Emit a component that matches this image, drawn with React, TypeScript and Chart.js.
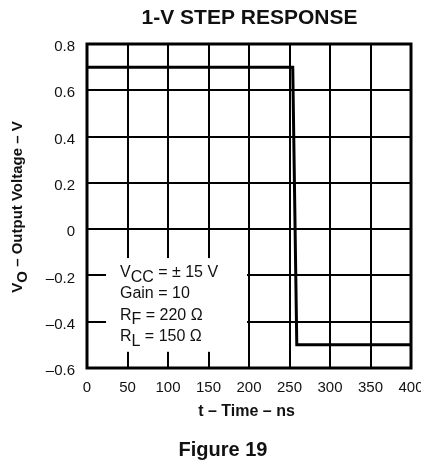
import React, { useEffect, useRef } from "react";
import { Chart, registerables } from "chart.js";

Chart.register(...registerables);

// ---- data ----
const timeNs = [0, 254, 259, 400];
const voltage = [0.7, 0.7, -0.5, -0.5];

const xMin = 0;
const xMax = 400;
const xStep = 50;
const yMin = -0.6;
const yMax = 0.8;
const yStep = 0.2;

const chartTitle = "1-V STEP RESPONSE";
const xTitle = "t \u2013 Time \u2013 ns";
const yTitleParts = [
  { text: "V" },
  { text: "O", sub: true },
  { text: " \u2013 Output Voltage \u2013 V" },
];
const figureCaption = "Figure 19";
const conditionLines = [
  [{ text: "V" }, { text: "CC", sub: true }, { text: " = \u00b1 15 V" }],
  [{ text: "Gain = 10" }],
  [{ text: "R" }, { text: "F", sub: true }, { text: " = 220 \u03a9" }],
  [{ text: "R" }, { text: "L", sub: true }, { text: " = 150 \u03a9" }],
];

type Part = { text: string; sub?: boolean };

const FONT = "Arial, 'Liberation Sans', sans-serif";

function drawParts(
  ctx: CanvasRenderingContext2D,
  parts: Part[],
  x: number,
  y: number,
  size: number,
  weight: string
) {
  let cx = x;
  ctx.font = `${weight} ${size}px ${FONT}`;
  for (const p of parts) {
    ctx.fillText(p.text, cx, p.sub ? y + size * 0.3 : y);
    cx += ctx.measureText(p.text).width;
  }
  return cx - x;
}

function measureParts(ctx: CanvasRenderingContext2D, parts: Part[], size: number, weight: string) {
  ctx.font = `${weight} ${size}px ${FONT}`;
  let w = 0;
  for (const p of parts) w += ctx.measureText(p.text).width;
  return w;
}

const annotations = {
  id: "annotations",
  beforeDatasetsDraw(chart: any) {
    const ctx = chart.ctx as CanvasRenderingContext2D;
    const xs = chart.scales.x;
    const ys = chart.scales.y;
    ctx.save();
    // conditions box (white, hides grid)
    const bx0 = xs.getPixelForValue(23.5);
    const bx1 = xs.getPixelForValue(197.5);
    const by0 = ys.getPixelForValue(-0.125);
    const by1 = ys.getPixelForValue(-0.53);
    ctx.fillStyle = "#fff";
    ctx.fillRect(bx0, by0, bx1 - bx0, by1 - by0);
    ctx.fillStyle = "#111";
    ctx.textBaseline = "alphabetic";
    ctx.textAlign = "left";
    const tx = xs.getPixelForValue(40.7);
    const baseY = ys.getPixelForValue(-0.207);
    conditionLines.forEach((line, i) => {
      drawParts(ctx, line as Part[], tx, baseY + i * 21.3, 16, "normal");
    });
    ctx.restore();
  },
  afterDraw(chart: any) {
    const ctx = chart.ctx as CanvasRenderingContext2D;
    const a = chart.chartArea;
    ctx.save();
    // frame
    ctx.strokeStyle = "#000";
    ctx.lineWidth = 3;
    ctx.strokeRect(a.left, a.top, a.right - a.left, a.bottom - a.top);
    ctx.fillStyle = "#111";
    // title
    ctx.textAlign = "center";
    ctx.textBaseline = "alphabetic";
    ctx.font = `bold 21px ${FONT}`;
    ctx.fillText(chartTitle, 249.5, 24);
    // x title
    ctx.font = `bold 16px ${FONT}`;
    ctx.fillText(xTitle, 246.5, 416);
    // caption
    ctx.font = `bold 20px ${FONT}`;
    ctx.fillText(figureCaption, 223, 456);
    // y title rotated
    ctx.textAlign = "left";
    const w = measureParts(ctx, yTitleParts as Part[], 15, "bold");
    ctx.translate(22, 207);
    ctx.rotate(-Math.PI / 2);
    drawParts(ctx, yTitleParts as Part[], -w / 2, 0, 15, "bold");
    ctx.restore();
  },
};

export default function App() {
  const ref = useRef<HTMLCanvasElement | null>(null);
  useEffect(() => {
    if (!ref.current) return;
    const chart = new Chart(ref.current, {
      type: "line",
      data: {
        datasets: [
          {
            data: timeNs.map((t, i) => ({ x: t, y: voltage[i] })),
            borderColor: "#000",
            borderWidth: 3,
            pointRadius: 0,
            tension: 0,
            borderJoinStyle: "miter",
            fill: false,
          },
        ],
      },
      options: {
        responsive: false,
        animation: false,
        events: [],
        layout: { padding: { left: 0, top: 44, right: 10, bottom: 0 } },
        plugins: {
          legend: { display: false },
          tooltip: { enabled: false },
          title: { display: false },
        },
        scales: {
          x: {
            type: "linear",
            min: xMin,
            max: xMax,
            afterFit: (s: any) => {
              s.height = 92;
              s.paddingLeft = 0;
              s.paddingRight = 0;
            },
            ticks: {
              stepSize: xStep,
              autoSkip: false,
              maxRotation: 0,
              padding: 11,
              color: "#111",
              font: { family: FONT, size: 15 },
              callback: (v: any) => String(Math.round(Number(v))),
            },
            grid: { color: "#000", lineWidth: 2, drawTicks: false },
            border: { display: false },
          },
          y: {
            type: "linear",
            min: yMin,
            max: yMax,
            afterFit: (s: any) => {
              s.width = 87;
              s.paddingTop = 0;
              s.paddingBottom = 0;
            },
            ticks: {
              stepSize: yStep,
              autoSkip: false,
              padding: 12,
              labelOffset: 3,
              color: "#111",
              font: { family: FONT, size: 15 },
              callback: (v: any) => {
                const n = Number(v);
                if (Math.abs(n) < 1e-9) return "0";
                return n.toFixed(1).replace("-", "\u2013");
              },
            },
            grid: { color: "#000", lineWidth: 2, drawTicks: false },
            border: { display: false },
          },
        },
      },
      plugins: [annotations],
    } as any);
    return () => chart.destroy();
  }, []);
  return (
    <div style={{ position: "fixed", left: 0, top: 0, width: 421, height: 460, background: "#fff" }}>
      <canvas ref={ref} width={421} height={460} />
    </div>
  );
}
